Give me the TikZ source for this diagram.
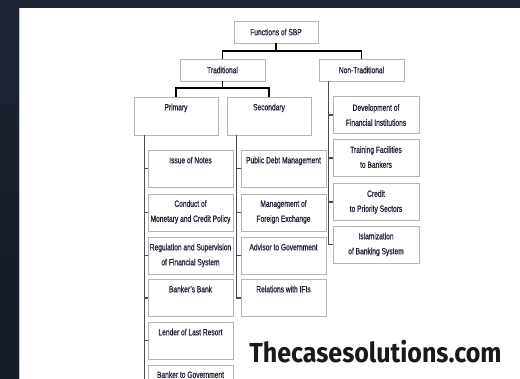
\documentclass[tikz,border=0pt]{standalone}
\usepackage{fontspec}
\setmainfont{Liberation Sans}[FakeStretch=0.74,FakeBold=0.6]
\newfontfamily\wmfont{Fira Sans}[FakeStretch=0.91]
\definecolor{bgtop}{HTML}{1E2533}
\definecolor{bgbot}{HTML}{151B25}
\definecolor{boxline}{HTML}{B4B4B4}
\definecolor{txt}{HTML}{1A1F33}
\begin{document}
\begin{tikzpicture}[x=1pt,y=-1pt,
  box/.style={draw=boxline, line width=0.9pt, fill=white, inner sep=0pt,
              minimum width=85pt, minimum height=37pt},
  topbox/.style={box, minimum height=22pt},
  lbl/.style={font=\fontsize{9}{15}\selectfont, align=center, inner sep=0pt, text=txt},
  topconn/.style={line width=1.3pt, black},
  trunk/.style={line width=1.1pt, black!70}]
\useasboundingbox (0,0) rectangle (520,378);
\shade[top color=bgtop, bottom color=bgbot] (0,0) rectangle (520,378);
\clip (0,0) rectangle (520,378);
\fill[white] (19,8) rectangle (530,390);
\draw[black!25, line width=0.8pt] (19.4,8) -- (19.4,390);

% top level
\node[topbox, minimum width=84pt] (F) at (276,32) {};
\node[lbl] at (F.center) {Functions of SBP};
\node[topbox] (T) at (222.5,70) {};
\node[lbl] at (T.center) {Traditional};
\node[topbox] (N) at (361.5,70) {};
\node[lbl] at (N.center) {Non-Traditional};
\coordinate (fj) at (276,51);
\draw[topconn] (F.south) -- (fj);
\draw[topconn] (T.north) |- (fj) -| (N.north);

% primary / secondary
\node[box, minimum width=84pt, minimum height=38pt] (P) at (176,116) {};
\node[lbl, below=7pt] at (P.north) {Primary};
\node[box, minimum width=84pt, minimum height=38pt] (S) at (269,116) {};
\node[lbl, below=7pt] at (S.north) {Secondary};
\coordinate (tj) at (222.5,88);
\draw[topconn] (T.south) -- (tj);
\draw[topconn] (P.north) |- (tj) -| (S.north);

% primary leaves
\node[box] (p1) at (190.5,168.5) {};
\node[lbl, below=7pt] at (p1.north) {Issue of Notes};
\node[box] (p2) at (190.5,212.5) {};
\node[lbl, below=6.5pt] at (p2.north) {Conduct of\\Monetary and Credit Policy};
\node[box] (p3) at (190.5,255.5) {};
\node[lbl, below=7pt] at (p3.north) {Regulation and Supervision\\of Financial System};
\node[box] (p4) at (190.5,298) {};
\node[lbl, below=6.5pt] at (p4.north) {Banker's Bank};
\node[box] (p5) at (190.5,340.5) {};
\node[lbl, below=7pt] at (p5.north) {Lender of Last Resort};
\node[box] (p6) at (190.5,383.5) {};
\node[lbl, below=6.5pt] at (p6.north) {Banker to Government};
\coordinate (pt) at ([xshift=11pt]P.south west);
\foreach \b in {p1,p2,p3,p4,p5,p6} \draw[trunk] (pt) |- (\b.west);

% secondary leaves
\node[box] (s1) at (283.5,168.5) {};
\node[lbl, below=7pt] at (s1.north) {Public Debt Management};
\node[box] (s2) at (283.5,212.5) {};
\node[lbl, below=6.5pt] at (s2.north) {Management of\\Foreign Exchange};
\node[box] (s3) at (283.5,255.5) {};
\node[lbl, below=7pt] at (s3.north) {Advisor to Government};
\node[box] (s4) at (283.5,298) {};
\node[lbl, below=6.5pt] at (s4.north) {Relations with IFIs};
\coordinate (st) at ([xshift=10pt]S.south west);
\foreach \b in {s1,s2,s3,s4} \draw[trunk] (st) |- (\b.west);

% non-traditional leaves
\node[box, minimum width=86pt] (n1) at (376,115) {};
\node[lbl, below=8pt] at (n1.north) {Development of\\Financial Institutions};
\node[box, minimum width=86pt] (n2) at (376,158) {};
\node[lbl, below=7pt] at (n2.north) {Training Facilities\\to Bankers};
\node[box, minimum width=86pt] (n3) at (376,202) {};
\node[lbl, below=7pt] at (n3.north) {Credit\\to Priority Sectors};
\node[box, minimum width=86pt] (n4) at (376,244.5) {};
\node[lbl, below=7pt] at (n4.north) {Islamization\\of Banking System};
\coordinate (nt) at ([xshift=10pt]N.south west);
\foreach \b in {n1,n2,n3,n4} \draw[trunk] (nt) |- (\b.west);

% watermark
\node[font=\wmfont\bfseries\fontsize{27.5}{30}\selectfont, inner sep=0pt, anchor=base, text=black!90] (wm) at (375.5,362) {Thecasesolutions.com};
\end{tikzpicture}
\end{document}
